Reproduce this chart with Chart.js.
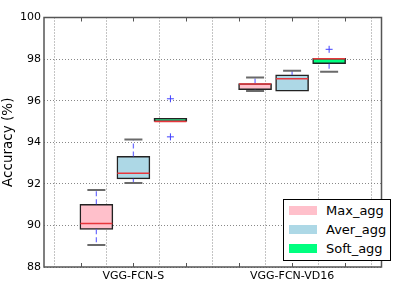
<!DOCTYPE html>
<html>
<head>
<meta charset="utf-8">
<script src="https://cdn.jsdelivr.net/npm/chart.js@4.4.1/dist/chart.umd.min.js"></script>
<style>
	body { margin: 0; background: #fff; }
	#wrap { position: relative; width: 399px; height: 287px; font-family: 'DejaVu Sans', sans-serif; }
	#legend { position: absolute; left: 283px; top: 199px; width: 106px; height: 60px; border: 1px solid #000; background: #fff; }
	.item { position: absolute; left: 0; height: 19px; font-size: 13px; line-height: 19px; color: #000; }
	.swatch { position: absolute; left: 5px; top: 5px; width: 28px; height: 9px; }
	.item span { position: absolute; left: 42px; white-space: nowrap; }
</style>
</head>
<body>
<div id="wrap">
	<canvas id="chart" width="399" height="287"></canvas>
	<div id="legend"></div>
</div>
<script>
(function () {
	'use strict';

	/* ---------- Data ---------- */

	var GROUPS = ['VGG-FCN-S', 'VGG-FCN-VD16'];
	var GROUP_POS = [2, 5];
	var SERIES = ['Max_agg', 'Aver_agg', 'Soft_agg'];

	var maxLow = [89.06, 96.46];
	var maxQ1 = [89.81, 96.53];
	var maxMed = [90.09, 96.80];
	var maxQ3 = [91.02, 96.82];
	var maxHigh = [91.70, 97.11];

	var averLow = [92.04, 96.46];
	var averQ1 = [92.24, 96.46];
	var averMed = [92.51, 97.05];
	var averQ3 = [93.32, 97.24];
	var averHigh = [94.13, 97.44];

	var softLow = [95.00, 97.39];
	var softQ1 = [95.00, 97.78];
	var softMed = [95.00, 98.02];
	var softQ3 = [95.15, 98.04];
	var softHigh = [95.15, 98.04];

	// outliers per group
	var softOutliers = [[96.09, 94.26], [98.47]];

	var Y_TICKS = [88, 90, 92, 94, 96, 98, 100];

	/* ---------- Styles ---------- */

	var FILLS = ['#ffc0cb', '#add8e6', '#00ff7f'];
	var OFFSETS = [-0.7, 0, 0.7];
	var FONT = "'DejaVu Sans', sans-serif";

	var stats = [
		{ low: maxLow, q1: maxQ1, med: maxMed, q3: maxQ3, high: maxHigh },
		{ low: averLow, q1: averQ1, med: averMed, q3: averQ3, high: averHigh },
		{ low: softLow, q1: softQ1, med: softMed, q3: softQ3, high: softHigh },
	];

	/* ---------- Datasets ---------- */

	var datasets = [];
	var whiskers = [];
	var caps = [];
	var medians = [];
	var outliers = [];

	stats.forEach(function (s, si) {
		var boxes = [];
		GROUP_POS.forEach(function (p, gi) {
			var x = p + OFFSETS[si];
			boxes.push({ x: x, y: [s.q1[gi], s.q3[gi]] });
			medians.push({ x: x, y: s.med[gi] });
			// caps hidden inside the box are skipped
			if (s.low[gi] < s.q1[gi]) caps.push({ x: x, y: s.low[gi] });
			if (s.high[gi] > s.q3[gi]) caps.push({ x: x, y: s.high[gi] });
			whiskers.push({ x: x, y: s.q3[gi] }, { x: x, y: s.high[gi] }, { x: x, y: null });
			whiskers.push({ x: x, y: s.q1[gi] }, { x: x, y: s.low[gi] }, { x: x, y: null });
			if (si === 2) {
				softOutliers[gi].forEach(function (v) {
					outliers.push({ x: x, y: v });
				});
			}
		});
		datasets.push({
			type: 'bar',
			label: SERIES[si],
			data: boxes,
			backgroundColor: FILLS[si],
			borderColor: '#222',
			borderWidth: 1.5,
			borderSkipped: false,
			barThickness: 33,
			grouped: false,
			order: 5,
		});
	});

	datasets.push({
		type: 'line',
		data: whiskers,
		borderColor: 'rgba(80,80,255,0.8)',
		borderWidth: 1.3,
		borderDash: [5, 3],
		pointRadius: 0,
		spanGaps: false,
		order: 4,
	});
	datasets.push({
		type: 'scatter',
		data: caps,
		pointStyle: 'line',
		pointRadius: 9,
		borderColor: '#6a6a6a',
		borderWidth: 2,
		order: 3,
	});
	datasets.push({
		type: 'scatter',
		data: medians,
		pointStyle: 'line',
		pointRadius: 16,
		borderColor: '#e8363c',
		borderWidth: 1.5,
		order: 1,
	});
	datasets.push({
		type: 'scatter',
		data: outliers,
		pointStyle: 'cross',
		pointRadius: 3.5,
		borderColor: '#4040ff',
		borderWidth: 1,
		order: 1,
	});

	/* ---------- Frame plugin ---------- */

	// matplotlib-style box round the axes, with short inward ticks on the x axis
	var framePlugin = {
		id: 'frame',
		afterDraw: function (chart) {
			var a = chart.chartArea;
			var ctx = chart.ctx;
			var xs = chart.scales.x;
			ctx.save();
			ctx.strokeStyle = '#555';
			ctx.lineWidth = 1;
			xs.ticks.forEach(function (t) {
				var px = Math.round(xs.getPixelForValue(t.value)) + 0.5;
				ctx.beginPath();
				ctx.moveTo(px, a.bottom);
				ctx.lineTo(px, a.bottom - 4);
				ctx.moveTo(px, a.top);
				ctx.lineTo(px, a.top + 4);
				ctx.stroke();
			});
			ctx.lineWidth = 1.5;
			ctx.strokeRect(a.left, a.top, a.right - a.left, a.bottom - a.top);
			ctx.restore();
		},
	};

	new Chart(document.getElementById('chart'), {
		data: { datasets: datasets },
		plugins: [framePlugin],
		options: {
			responsive: false,
			animation: false,
			devicePixelRatio: 1,
			layout: { padding: { top: 7, right: 3.5, left: 0, bottom: 0 } },
			plugins: {
				legend: { display: false },
				tooltip: { enabled: false },
			},
			scales: {
				x: {
					type: 'linear',
					min: 0.31,
					max: 6.69,
					offset: false,
					afterBuildTicks: function (scale) {
						scale.ticks = [1, 2, 3, 4, 5, 6].map(function (v) { return { value: v }; });
					},
					afterFit: function (scale) { scale.height = 20; },
					grid: { color: '#888', drawTicks: false, lineWidth: 1 },
					border: { display: false, dash: [1, 2] },
					ticks: {
						padding: 3,
						color: '#000',
						font: { family: FONT, size: 11 },
						maxRotation: 0,
						autoSkip: false,
						callback: function (v) {
							var i = GROUP_POS.indexOf(v);
							return i >= 0 ? GROUPS[i] : '';
						},
					},
				},
				y: {
					min: 88,
					max: 100,
					afterBuildTicks: function (scale) {
						scale.ticks = Y_TICKS.map(function (v) { return { value: v }; });
					},
					afterFit: function (scale) { scale.width = 44; },
					grid: { color: '#888', drawTicks: false, lineWidth: 1 },
					border: { display: false, dash: [1, 2] },
					ticks: {
						padding: 3,
						color: '#000',
						font: { family: FONT, size: 11 },
					},
					title: {
						display: true,
						text: 'Accuracy (%)',
						color: '#000',
						font: { family: FONT, size: 13.5 },
						padding: { top: 0, bottom: 2 },
					},
				},
			},
		},
	});

	/* ---------- Legend ---------- */

	var legend = document.getElementById('legend');
	SERIES.forEach(function (name, i) {
		var item = document.createElement('div');
		item.className = 'item';
		item.style.top = (1 + i * 19) + 'px';
		item.style.width = '100%';
		item.innerHTML = '<div class="swatch" style="background:' + FILLS[i] + '"></div><span>' + name + '</span>';
		legend.appendChild(item);
	});
})();
</script>
</body>
</html>
